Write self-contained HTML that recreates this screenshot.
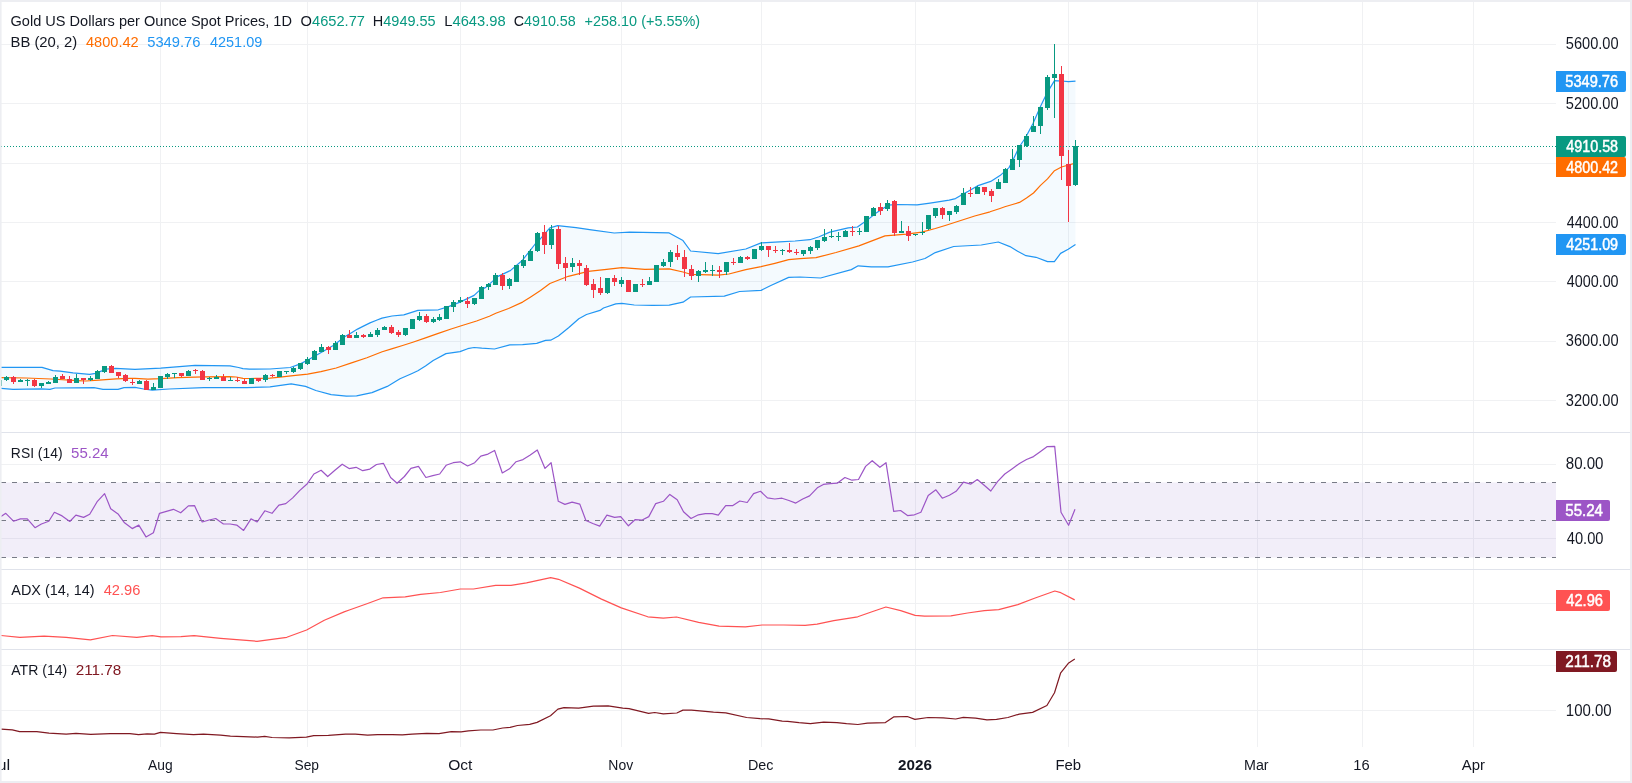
<!DOCTYPE html><html><head><meta charset='utf-8'><style>html,body{margin:0;padding:0;background:#fff;}#f{position:relative;width:1632px;height:783px;overflow:hidden;background:#EDEEF2;}svg{position:absolute;left:0;top:0;will-change:transform;}text{font-family:'Liberation Sans',sans-serif;}</style></head><body><div id='f'>
<svg width='1632' height='783' viewBox='0 0 1632 783'>
<defs><clipPath id='cp'><rect x='1' y='2' width='1555' height='745'/></clipPath><clipPath id='cm'><rect x='1' y='2' width='1555' height='430'/></clipPath><clipPath id='ct'><rect x='1' y='747' width='1629' height='34'/></clipPath></defs>
<rect x='1' y='2' width='1629' height='779' fill='#fff'/>
<g fill='#F0F1F3' shape-rendering='crispEdges'><rect x='1' y='44' width='1555' height='1'/><rect x='1' y='103' width='1555' height='1'/><rect x='1' y='163' width='1555' height='1'/><rect x='1' y='222' width='1555' height='1'/><rect x='1' y='281' width='1555' height='1'/><rect x='1' y='341' width='1555' height='1'/><rect x='1' y='400' width='1555' height='1'/><rect x='1' y='464' width='1555' height='1'/><rect x='1' y='538' width='1555' height='1'/><rect x='1' y='603' width='1555' height='1'/><rect x='1' y='665' width='1555' height='1'/><rect x='1' y='710' width='1555' height='1'/><rect x='160' y='2' width='1' height='745'/><rect x='307' y='2' width='1' height='745'/><rect x='460' y='2' width='1' height='745'/><rect x='621' y='2' width='1' height='745'/><rect x='761' y='2' width='1' height='745'/><rect x='915' y='2' width='1' height='745'/><rect x='1068' y='2' width='1' height='745'/><rect x='1257' y='2' width='1' height='745'/><rect x='1362' y='2' width='1' height='745'/><rect x='1473' y='2' width='1' height='745'/></g>
<g clip-path='url(#cm)'>
<polygon points='1.0,367.4 42.0,367.4 53.0,370.6 60.0,371.1 73.0,372.9 89.6,374.4 95.6,373.3 101.2,371.1 107.2,369.0 115.8,368.4 130.0,369.2 135.0,369.4 160.7,368.2 195.0,365.4 230.0,365.8 238.6,367.5 242.9,368.6 249.4,369.2 270.0,369.0 290.2,367.5 300.4,363.9 309.6,359.0 317.2,354.8 325.5,350.0 333.2,345.5 338.3,341.7 344.7,336.8 351.1,333.0 357.5,329.1 363.9,325.9 370.0,322.9 377.1,320.0 382.0,318.1 392.0,316.0 403.8,314.9 417.9,310.4 438.3,309.8 448.5,306.6 460.0,302.1 474.1,295.4 479.2,290.6 485.8,287.4 498.0,276.4 510.3,270.6 522.5,260.2 530.0,250.6 534.8,244.5 539.2,240.2 549.9,227.9 557.6,225.7 576.0,227.6 591.3,229.9 614.2,233.0 629.6,232.2 669.2,232.9 683.0,240.6 690.6,251.0 718.2,253.6 745.8,249.0 761.1,242.9 779.5,241.8 795.0,241.0 809.9,239.7 819.1,236.7 829.8,232.1 848.2,227.9 857.4,227.0 866.6,220.6 875.8,213.2 888.0,205.2 897.2,204.5 917.1,204.9 930.0,203.1 949.2,200.2 955.5,198.6 960.7,195.4 968.3,191.3 977.3,185.9 990.7,181.4 1000.0,175.6 1009.0,167.6 1013.0,160.0 1019.2,147.0 1025.3,138.0 1033.0,123.5 1040.7,105.9 1047.5,92.1 1054.5,80.6 1061.5,81.0 1068.5,81.6 1075.5,81.1 1075.5,244.6 1068.2,249.3 1060.6,253.4 1054.4,261.6 1047.5,261.6 1036.0,257.3 1026.0,255.7 1017.6,251.2 1009.9,246.6 998.3,242.0 981.3,245.0 953.7,246.5 935.3,252.6 925.0,258.5 912.5,262.0 888.0,266.9 871.2,266.9 858.2,265.8 851.3,269.6 820.6,278.0 800.0,277.0 788.7,277.4 770.3,285.8 761.1,290.4 739.6,291.5 724.3,296.1 690.6,297.0 683.0,302.2 669.2,305.2 652.5,305.4 634.2,305.0 621.9,303.4 615.8,303.9 603.5,308.0 600.0,310.4 586.5,314.5 578.8,318.7 568.6,327.7 558.4,336.0 550.7,340.2 545.6,340.4 536.7,343.4 522.6,344.7 509.8,344.9 494.5,349.0 481.7,348.2 474.1,347.5 467.7,348.7 460.0,351.6 446.0,353.6 433.2,360.5 425.5,366.0 417.9,370.7 411.5,373.7 400.0,378.8 397.5,380.3 387.3,386.4 372.0,392.6 356.6,395.8 346.4,396.1 331.1,394.6 315.8,390.5 305.5,386.4 291.2,383.9 270.0,386.8 246.5,387.7 229.4,387.7 203.6,387.7 169.3,389.0 152.2,390.1 143.6,389.0 135.0,387.3 124.0,387.6 118.0,389.3 103.0,389.3 94.0,387.6 55.0,388.0 50.0,389.3 41.0,388.9 13.0,389.3 1.0,388.4' fill='#2196F3' fill-opacity='0.05'/>
<polyline points='1.0,377.7 26.0,378.0 51.0,379.0 77.0,380.6 86.0,381.0 99.0,380.2 116.0,378.9 130.0,378.4 135.0,378.3 147.9,379.2 160.7,378.7 177.9,377.6 203.6,376.8 229.4,376.7 236.0,377.0 243.0,378.4 250.0,378.5 270.0,378.1 280.0,377.2 293.3,375.7 307.6,374.2 320.9,371.6 336.2,368.0 351.5,362.9 366.9,357.8 382.2,351.7 392.4,348.6 402.6,345.5 412.8,342.2 425.5,337.9 438.3,333.4 451.1,329.0 461.3,325.8 476.6,321.0 489.4,316.2 495.8,313.2 508.6,308.5 522.6,302.1 530.3,297.2 540.5,290.4 549.9,283.5 568.3,276.3 588.2,271.3 606.6,269.3 621.9,267.7 644.9,269.3 669.2,268.9 683.0,272.0 690.6,274.3 718.2,275.1 728.9,274.0 745.8,269.7 761.1,266.6 774.9,263.3 788.7,259.7 800.0,258.7 816.0,257.7 836.0,252.5 858.9,245.9 885.0,235.9 906.4,234.1 921.7,232.1 935.3,228.5 946.0,225.2 974.7,216.0 990.0,211.8 1000.0,208.5 1004.8,206.8 1012.5,204.5 1019.5,202.4 1026.5,198.1 1033.5,193.0 1040.5,185.4 1047.5,178.9 1054.5,170.7 1061.5,167.0 1068.5,165.0 1075.5,163.2' fill='none' stroke='#FF6D00' stroke-width='1.2' stroke-linejoin='round'/>
<polyline points='1.0,367.4 42.0,367.4 53.0,370.6 60.0,371.1 73.0,372.9 89.6,374.4 95.6,373.3 101.2,371.1 107.2,369.0 115.8,368.4 130.0,369.2 135.0,369.4 160.7,368.2 195.0,365.4 230.0,365.8 238.6,367.5 242.9,368.6 249.4,369.2 270.0,369.0 290.2,367.5 300.4,363.9 309.6,359.0 317.2,354.8 325.5,350.0 333.2,345.5 338.3,341.7 344.7,336.8 351.1,333.0 357.5,329.1 363.9,325.9 370.0,322.9 377.1,320.0 382.0,318.1 392.0,316.0 403.8,314.9 417.9,310.4 438.3,309.8 448.5,306.6 460.0,302.1 474.1,295.4 479.2,290.6 485.8,287.4 498.0,276.4 510.3,270.6 522.5,260.2 530.0,250.6 534.8,244.5 539.2,240.2 549.9,227.9 557.6,225.7 576.0,227.6 591.3,229.9 614.2,233.0 629.6,232.2 669.2,232.9 683.0,240.6 690.6,251.0 718.2,253.6 745.8,249.0 761.1,242.9 779.5,241.8 795.0,241.0 809.9,239.7 819.1,236.7 829.8,232.1 848.2,227.9 857.4,227.0 866.6,220.6 875.8,213.2 888.0,205.2 897.2,204.5 917.1,204.9 930.0,203.1 949.2,200.2 955.5,198.6 960.7,195.4 968.3,191.3 977.3,185.9 990.7,181.4 1000.0,175.6 1009.0,167.6 1013.0,160.0 1019.2,147.0 1025.3,138.0 1033.0,123.5 1040.7,105.9 1047.5,92.1 1054.5,80.6 1061.5,81.0 1068.5,81.6 1075.5,81.1' fill='none' stroke='#2196F3' stroke-width='1.2' stroke-linejoin='round'/>
<polyline points='1.0,388.4 13.0,389.3 41.0,388.9 50.0,389.3 55.0,388.0 94.0,387.6 103.0,389.3 118.0,389.3 124.0,387.6 135.0,387.3 143.6,389.0 152.2,390.1 169.3,389.0 203.6,387.7 229.4,387.7 246.5,387.7 270.0,386.8 291.2,383.9 305.5,386.4 315.8,390.5 331.1,394.6 346.4,396.1 356.6,395.8 372.0,392.6 387.3,386.4 397.5,380.3 400.0,378.8 411.5,373.7 417.9,370.7 425.5,366.0 433.2,360.5 446.0,353.6 460.0,351.6 467.7,348.7 474.1,347.5 481.7,348.2 494.5,349.0 509.8,344.9 522.6,344.7 536.7,343.4 545.6,340.4 550.7,340.2 558.4,336.0 568.6,327.7 578.8,318.7 586.5,314.5 600.0,310.4 603.5,308.0 615.8,303.9 621.9,303.4 634.2,305.0 652.5,305.4 669.2,305.2 683.0,302.2 690.6,297.0 724.3,296.1 739.6,291.5 761.1,290.4 770.3,285.8 788.7,277.4 800.0,277.0 820.6,278.0 851.3,269.6 858.2,265.8 871.2,266.9 888.0,266.9 912.5,262.0 925.0,258.5 935.3,252.6 953.7,246.5 981.3,245.0 998.3,242.0 1009.9,246.6 1017.6,251.2 1026.0,255.7 1036.0,257.3 1047.5,261.6 1054.4,261.6 1060.6,253.4 1068.2,249.3 1075.5,244.6' fill='none' stroke='#2196F3' stroke-width='1.2' stroke-linejoin='round'/>
<g fill='#089981' shape-rendering='crispEdges'><rect x='-1' y='380' width='1' height='6'/><rect x='-3' y='380' width='5' height='6'/><rect x='6' y='376' width='1' height='5'/><rect x='4' y='377' width='5' height='3'/><rect x='20' y='379' width='1' height='3'/><rect x='18' y='380' width='5' height='2'/><rect x='27' y='379' width='1' height='7'/><rect x='25' y='380' width='5' height='1'/><rect x='41' y='383' width='1' height='5'/><rect x='39' y='383' width='5' height='3'/><rect x='48' y='381' width='1' height='3'/><rect x='46' y='382' width='5' height='2'/><rect x='55' y='375' width='1' height='8'/><rect x='53' y='377' width='5' height='6'/><rect x='76' y='374' width='1' height='9'/><rect x='74' y='378' width='5' height='5'/><rect x='90' y='376' width='1' height='5'/><rect x='88' y='378' width='5' height='2'/><rect x='97' y='370' width='1' height='9'/><rect x='95' y='371' width='5' height='8'/><rect x='104' y='366' width='1' height='7'/><rect x='102' y='366' width='5' height='6'/><rect x='139' y='380' width='1' height='4'/><rect x='137' y='381' width='5' height='3'/><rect x='153' y='383' width='1' height='7'/><rect x='151' y='387' width='5' height='3'/><rect x='160' y='376' width='1' height='12'/><rect x='158' y='376' width='5' height='12'/><rect x='167' y='373' width='1' height='6'/><rect x='165' y='374' width='5' height='3'/><rect x='174' y='373' width='1' height='5'/><rect x='172' y='373' width='5' height='1'/><rect x='188' y='370' width='1' height='6'/><rect x='186' y='371' width='5' height='5'/><rect x='209' y='377' width='1' height='4'/><rect x='207' y='378' width='5' height='1'/><rect x='216' y='375' width='1' height='4'/><rect x='214' y='377' width='5' height='2'/><rect x='230' y='377' width='1' height='3'/><rect x='228' y='380' width='5' height='1'/><rect x='251' y='378' width='1' height='6'/><rect x='249' y='378' width='5' height='6'/><rect x='265' y='374' width='1' height='8'/><rect x='263' y='375' width='5' height='5'/><rect x='279' y='371' width='1' height='6'/><rect x='277' y='371' width='5' height='6'/><rect x='286' y='371' width='1' height='3'/><rect x='284' y='371' width='5' height='1'/><rect x='293' y='367' width='1' height='6'/><rect x='291' y='368' width='5' height='4'/><rect x='300' y='363' width='1' height='7'/><rect x='298' y='363' width='5' height='6'/><rect x='307' y='357' width='1' height='8'/><rect x='305' y='359' width='5' height='5'/><rect x='314' y='350' width='1' height='10'/><rect x='312' y='351' width='5' height='9'/><rect x='321' y='344' width='1' height='8'/><rect x='319' y='347' width='5' height='5'/><rect x='335' y='341' width='1' height='9'/><rect x='333' y='343' width='5' height='7'/><rect x='342' y='334' width='1' height='11'/><rect x='340' y='335' width='5' height='10'/><rect x='356' y='332' width='1' height='6'/><rect x='354' y='335' width='5' height='3'/><rect x='370' y='332' width='1' height='5'/><rect x='368' y='334' width='5' height='3'/><rect x='377' y='328' width='1' height='9'/><rect x='375' y='330' width='5' height='5'/><rect x='384' y='326' width='1' height='4'/><rect x='382' y='327' width='5' height='3'/><rect x='405' y='328' width='1' height='8'/><rect x='403' y='328' width='5' height='7'/><rect x='412' y='319' width='1' height='10'/><rect x='410' y='319' width='5' height='10'/><rect x='419' y='312' width='1' height='9'/><rect x='417' y='316' width='5' height='4'/><rect x='433' y='317' width='1' height='6'/><rect x='431' y='319' width='5' height='3'/><rect x='439' y='314' width='1' height='7'/><rect x='437' y='317' width='5' height='3'/><rect x='446' y='306' width='1' height='13'/><rect x='444' y='306' width='5' height='13'/><rect x='453' y='300' width='1' height='12'/><rect x='451' y='302' width='5' height='5'/><rect x='460' y='297' width='1' height='6'/><rect x='458' y='300' width='5' height='2'/><rect x='474' y='298' width='1' height='7'/><rect x='472' y='298' width='5' height='6'/><rect x='481' y='286' width='1' height='13'/><rect x='479' y='287' width='5' height='12'/><rect x='488' y='283' width='1' height='7'/><rect x='486' y='284' width='5' height='3'/><rect x='495' y='273' width='1' height='12'/><rect x='493' y='275' width='5' height='10'/><rect x='509' y='278' width='1' height='11'/><rect x='507' y='279' width='5' height='7'/><rect x='516' y='265' width='1' height='17'/><rect x='514' y='265' width='5' height='17'/><rect x='523' y='255' width='1' height='13'/><rect x='521' y='260' width='5' height='6'/><rect x='530' y='249' width='1' height='12'/><rect x='528' y='251' width='5' height='10'/><rect x='537' y='232' width='1' height='20'/><rect x='535' y='233' width='5' height='18'/><rect x='551' y='225' width='1' height='24'/><rect x='549' y='229' width='5' height='16'/><rect x='572' y='258' width='1' height='14'/><rect x='570' y='263' width='5' height='4'/><rect x='607' y='278' width='1' height='16'/><rect x='605' y='278' width='5' height='15'/><rect x='621' y='277' width='1' height='10'/><rect x='619' y='280' width='5' height='4'/><rect x='635' y='284' width='1' height='8'/><rect x='633' y='284' width='5' height='8'/><rect x='649' y='277' width='1' height='8'/><rect x='647' y='281' width='5' height='4'/><rect x='656' y='265' width='1' height='17'/><rect x='654' y='265' width='5' height='17'/><rect x='663' y='259' width='1' height='8'/><rect x='661' y='262' width='5' height='4'/><rect x='670' y='250' width='1' height='17'/><rect x='668' y='252' width='5' height='10'/><rect x='698' y='270' width='1' height='12'/><rect x='696' y='271' width='5' height='5'/><rect x='705' y='262' width='1' height='11'/><rect x='703' y='270' width='5' height='2'/><rect x='712' y='265' width='1' height='11'/><rect x='710' y='270' width='5' height='1'/><rect x='726' y='262' width='1' height='13'/><rect x='724' y='262' width='5' height='10'/><rect x='740' y='256' width='1' height='7'/><rect x='738' y='257' width='5' height='6'/><rect x='754' y='249' width='1' height='10'/><rect x='752' y='249' width='5' height='10'/><rect x='761' y='242' width='1' height='9'/><rect x='759' y='246' width='5' height='4'/><rect x='782' y='249' width='1' height='6'/><rect x='780' y='250' width='5' height='1'/><rect x='803' y='250' width='1' height='6'/><rect x='801' y='250' width='5' height='4'/><rect x='810' y='246' width='1' height='8'/><rect x='808' y='247' width='5' height='4'/><rect x='817' y='240' width='1' height='10'/><rect x='815' y='240' width='5' height='8'/><rect x='824' y='229' width='1' height='13'/><rect x='822' y='237' width='5' height='4'/><rect x='831' y='229' width='1' height='9'/><rect x='829' y='236' width='5' height='1'/><rect x='838' y='232' width='1' height='9'/><rect x='836' y='236' width='5' height='1'/><rect x='845' y='230' width='1' height='7'/><rect x='843' y='231' width='5' height='6'/><rect x='859' y='228' width='1' height='7'/><rect x='857' y='231' width='5' height='1'/><rect x='866' y='216' width='1' height='16'/><rect x='864' y='216' width='5' height='16'/><rect x='873' y='207' width='1' height='9'/><rect x='871' y='208' width='5' height='8'/><rect x='887' y='200' width='1' height='11'/><rect x='885' y='203' width='5' height='6'/><rect x='901' y='221' width='1' height='12'/><rect x='899' y='231' width='5' height='2'/><rect x='915' y='234' width='1' height='2'/><rect x='913' y='234' width='5' height='1'/><rect x='922' y='222' width='1' height='13'/><rect x='920' y='232' width='5' height='1'/><rect x='928' y='215' width='1' height='15'/><rect x='926' y='215' width='5' height='14'/><rect x='935' y='208' width='1' height='10'/><rect x='933' y='208' width='5' height='8'/><rect x='949' y='211' width='1' height='10'/><rect x='947' y='211' width='5' height='4'/><rect x='956' y='205' width='1' height='9'/><rect x='954' y='206' width='5' height='6'/><rect x='963' y='188' width='1' height='17'/><rect x='961' y='193' width='5' height='12'/><rect x='977' y='186' width='1' height='8'/><rect x='975' y='187' width='5' height='7'/><rect x='998' y='179' width='1' height='10'/><rect x='996' y='182' width='5' height='7'/><rect x='1005' y='168' width='1' height='15'/><rect x='1003' y='169' width='5' height='14'/><rect x='1012' y='149' width='1' height='21'/><rect x='1010' y='159' width='5' height='11'/><rect x='1019' y='145' width='1' height='22'/><rect x='1017' y='145' width='5' height='15'/><rect x='1026' y='134' width='1' height='13'/><rect x='1024' y='136' width='5' height='10'/><rect x='1033' y='116' width='1' height='16'/><rect x='1031' y='126' width='5' height='6'/><rect x='1040' y='107' width='1' height='27'/><rect x='1038' y='107' width='5' height='19'/><rect x='1047' y='75' width='1' height='35'/><rect x='1045' y='77' width='5' height='31'/><rect x='1054' y='44' width='1' height='74'/><rect x='1052' y='74' width='5' height='4'/><rect x='1075' y='140' width='1' height='46'/><rect x='1073' y='146' width='5' height='39'/></g>
<g fill='#F23645' shape-rendering='crispEdges'><rect x='13' y='376' width='1' height='8'/><rect x='11' y='377' width='5' height='5'/><rect x='34' y='379' width='1' height='8'/><rect x='32' y='380' width='5' height='6'/><rect x='62' y='374' width='1' height='5'/><rect x='60' y='376' width='5' height='3'/><rect x='69' y='376' width='1' height='7'/><rect x='67' y='379' width='5' height='4'/><rect x='83' y='378' width='1' height='6'/><rect x='81' y='378' width='5' height='2'/><rect x='111' y='365' width='1' height='8'/><rect x='109' y='366' width='5' height='7'/><rect x='118' y='372' width='1' height='6'/><rect x='116' y='372' width='5' height='4'/><rect x='125' y='374' width='1' height='8'/><rect x='123' y='375' width='5' height='6'/><rect x='132' y='379' width='1' height='6'/><rect x='130' y='382' width='5' height='1'/><rect x='146' y='380' width='1' height='10'/><rect x='144' y='381' width='5' height='9'/><rect x='181' y='373' width='1' height='4'/><rect x='179' y='373' width='5' height='3'/><rect x='195' y='369' width='1' height='5'/><rect x='193' y='370' width='5' height='1'/><rect x='202' y='370' width='1' height='10'/><rect x='200' y='371' width='5' height='9'/><rect x='223' y='374' width='1' height='7'/><rect x='221' y='377' width='5' height='4'/><rect x='237' y='377' width='1' height='5'/><rect x='235' y='380' width='5' height='1'/><rect x='244' y='379' width='1' height='5'/><rect x='242' y='381' width='5' height='3'/><rect x='258' y='378' width='1' height='4'/><rect x='256' y='378' width='5' height='3'/><rect x='272' y='374' width='1' height='3'/><rect x='270' y='375' width='5' height='1'/><rect x='328' y='346' width='1' height='8'/><rect x='326' y='347' width='5' height='3'/><rect x='349' y='330' width='1' height='8'/><rect x='347' y='335' width='5' height='3'/><rect x='363' y='334' width='1' height='4'/><rect x='361' y='335' width='5' height='2'/><rect x='391' y='325' width='1' height='9'/><rect x='389' y='327' width='5' height='6'/><rect x='398' y='330' width='1' height='7'/><rect x='396' y='332' width='5' height='3'/><rect x='426' y='314' width='1' height='9'/><rect x='424' y='316' width='5' height='6'/><rect x='467' y='297' width='1' height='11'/><rect x='465' y='301' width='5' height='3'/><rect x='502' y='273' width='1' height='17'/><rect x='500' y='275' width='5' height='11'/><rect x='544' y='225' width='1' height='29'/><rect x='542' y='232' width='5' height='13'/><rect x='558' y='226' width='1' height='43'/><rect x='556' y='229' width='5' height='35'/><rect x='565' y='257' width='1' height='24'/><rect x='563' y='263' width='5' height='5'/><rect x='579' y='260' width='1' height='15'/><rect x='577' y='263' width='5' height='3'/><rect x='586' y='265' width='1' height='21'/><rect x='584' y='268' width='5' height='17'/><rect x='593' y='279' width='1' height='19'/><rect x='591' y='284' width='5' height='6'/><rect x='600' y='277' width='1' height='18'/><rect x='598' y='288' width='5' height='5'/><rect x='614' y='275' width='1' height='11'/><rect x='612' y='278' width='5' height='4'/><rect x='628' y='280' width='1' height='12'/><rect x='626' y='280' width='5' height='12'/><rect x='642' y='279' width='1' height='8'/><rect x='640' y='284' width='5' height='1'/><rect x='677' y='245' width='1' height='15'/><rect x='675' y='253' width='5' height='4'/><rect x='684' y='250' width='1' height='27'/><rect x='682' y='257' width='5' height='12'/><rect x='691' y='265' width='1' height='15'/><rect x='689' y='269' width='5' height='7'/><rect x='719' y='266' width='1' height='12'/><rect x='717' y='270' width='5' height='2'/><rect x='733' y='258' width='1' height='7'/><rect x='731' y='262' width='5' height='1'/><rect x='747' y='256' width='1' height='4'/><rect x='745' y='257' width='5' height='2'/><rect x='768' y='246' width='1' height='11'/><rect x='766' y='246' width='5' height='4'/><rect x='775' y='246' width='1' height='7'/><rect x='773' y='250' width='5' height='1'/><rect x='789' y='243' width='1' height='10'/><rect x='787' y='250' width='5' height='2'/><rect x='796' y='249' width='1' height='6'/><rect x='794' y='252' width='5' height='1'/><rect x='852' y='226' width='1' height='10'/><rect x='850' y='231' width='5' height='1'/><rect x='880' y='203' width='1' height='12'/><rect x='878' y='207' width='5' height='4'/><rect x='894' y='200' width='1' height='36'/><rect x='892' y='201' width='5' height='32'/><rect x='908' y='226' width='1' height='15'/><rect x='906' y='231' width='5' height='5'/><rect x='942' y='207' width='1' height='12'/><rect x='940' y='208' width='5' height='7'/><rect x='970' y='187' width='1' height='10'/><rect x='968' y='193' width='5' height='1'/><rect x='984' y='187' width='1' height='8'/><rect x='982' y='187' width='5' height='5'/><rect x='991' y='189' width='1' height='13'/><rect x='989' y='191' width='5' height='5'/><rect x='1061' y='66' width='1' height='114'/><rect x='1059' y='74' width='5' height='82'/><rect x='1068' y='150' width='1' height='72'/><rect x='1066' y='164' width='5' height='22'/></g>
<line x1='1' y1='146.5' x2='1556' y2='146.5' stroke='#089981' stroke-width='1' stroke-dasharray='1 2' shape-rendering='crispEdges'/>
</g>
<rect x='1' y='482.5' width='1555' height='75' fill='#7E57C2' fill-opacity='0.1'/>
<line x1='1' y1='482.5' x2='1556' y2='482.5' stroke='#787B86' stroke-width='1' stroke-dasharray='5 6' shape-rendering='crispEdges'/>
<line x1='1' y1='520.5' x2='1556' y2='520.5' stroke='#787B86' stroke-width='1' stroke-dasharray='5 6' shape-rendering='crispEdges'/>
<line x1='1' y1='557.5' x2='1556' y2='557.5' stroke='#787B86' stroke-width='1' stroke-dasharray='5 6' shape-rendering='crispEdges'/>
<g clip-path='url(#cp)'>
<polyline points='1.0,516.6 5.8,513.3 13.5,521.2 20.4,518.9 27.3,518.9 35.0,527.7 41.4,524.0 48.8,521.2 54.4,512.3 62.1,515.9 69.8,521.5 75.9,515.1 83.6,517.4 89.7,514.3 97.4,501.3 104.6,493.6 110.7,508.7 118.4,514.3 124.5,522.8 132.2,528.6 138.8,525.1 146.0,536.9 153.4,532.7 159.5,513.3 166.4,511.3 173.4,509.3 180.7,512.8 188.4,505.9 194.5,505.6 202.2,522.0 209.1,520.0 215.7,518.5 223.4,524.0 230.1,524.0 236.7,525.1 243.6,530.4 251.0,518.9 257.1,522.0 264.8,510.8 272.0,513.3 278.9,505.1 285.8,503.6 292.7,497.9 299.6,490.6 307.3,483.7 313.9,474.0 321.1,470.3 327.7,476.5 334.9,470.3 342.2,464.2 349.1,468.6 356.1,467.3 362.7,470.7 369.9,469.1 376.5,464.5 383.4,463.3 390.6,477.5 397.1,483.2 404.4,476.5 410.9,468.4 418.5,466.4 425.9,477.5 432.8,475.6 439.7,474.0 446.1,465.3 453.2,462.7 460.4,461.8 467.6,466.0 474.7,462.7 480.8,456.1 488.0,454.1 494.6,450.4 502.3,473.0 509.5,468.8 516.1,461.7 523.0,459.6 529.9,455.3 537.3,450.0 545.0,468.4 551.1,462.7 558.3,501.3 564.9,504.4 572.1,502.1 579.8,504.1 585.9,520.5 592.8,523.5 599.7,526.1 606.9,515.1 614.6,517.4 620.7,516.6 628.4,525.8 635.0,519.7 642.2,520.0 648.8,516.6 655.7,503.6 663.4,501.3 669.8,494.4 677.2,499.8 683.5,511.7 691.0,518.5 698.4,514.8 705.3,513.6 712.2,513.6 718.3,515.1 725.7,505.6 732.9,505.6 739.8,501.0 747.2,502.5 753.6,493.6 760.5,491.3 767.4,497.9 774.8,499.0 782.0,498.2 788.9,500.5 795.8,503.1 802.7,499.0 809.6,495.9 817.3,487.8 823.4,484.4 830.3,483.7 837.2,483.2 844.9,477.5 852.0,480.2 858.5,479.5 865.6,466.4 872.2,460.7 879.9,467.3 886.0,462.7 893.7,511.3 900.6,510.5 907.5,515.6 914.4,514.8 920.9,512.3 928.2,495.5 935.9,489.8 942.3,498.2 949.4,495.2 956.1,491.3 963.5,482.1 970.9,484.1 977.3,479.5 984.2,485.2 990.8,491.0 997.5,481.7 1004.8,474.0 1012.3,468.7 1019.5,463.5 1026.5,459.5 1033.5,456.6 1040.2,451.7 1047.3,446.6 1054.7,446.4 1061.0,512.2 1068.6,525.3 1075.0,509.3' fill='none' stroke='#9C55C6' stroke-width='1.2' stroke-linejoin='round'/>
<polyline points='1.0,635.5 19.9,637.3 44.1,636.2 66.2,637.3 90.4,639.9 112.5,635.5 136.8,637.3 152.2,635.7 161.0,636.8 180.9,636.6 194.1,635.7 220.6,638.4 257.0,641.3 286.8,637.3 306.6,630.0 324.3,620.3 344.1,611.9 350.0,609.7 367.6,603.5 383.1,597.8 405.2,596.9 420.6,594.3 440.4,592.5 460.3,589.0 473.5,589.0 495.6,585.4 511.0,585.4 526.5,582.8 550.7,577.7 558.5,579.3 579.4,588.1 601.5,599.1 621.3,607.9 647.8,616.8 663.3,618.1 676.5,617.0 698.6,622.3 719.1,626.2 745.4,626.9 762.1,625.0 783.6,625.0 805.1,625.4 817.1,624.2 833.8,620.7 857.7,616.8 872.0,611.8 885.9,607.0 900.7,610.6 915.1,615.4 924.6,616.1 950.9,615.9 967.6,613.0 984.3,610.6 998.7,609.7 1017.8,604.6 1034.5,598.2 1054.8,591.0 1060.8,592.7 1074.7,599.9' fill='none' stroke='#FF5252' stroke-width='1.2' stroke-linejoin='round'/>
<polyline points='1.2,729.2 12.3,729.9 19.6,731.7 36.8,731.7 49.0,733.1 66.2,734.1 76.0,733.4 90.7,734.4 110.3,733.6 129.9,733.6 138.5,734.6 147.1,733.9 154.4,734.1 160.5,732.4 176.5,733.6 193.6,734.6 203.4,734.1 220.6,735.1 230.4,736.1 257.4,737.1 264.7,736.3 272.1,737.5 289.2,737.8 306.4,737.1 313.7,735.6 328.4,735.3 345.6,734.1 355.4,734.1 367.6,735.1 377.5,734.6 392.2,734.6 402.3,734.9 412.1,734.1 426.8,733.4 439.0,733.6 451.3,731.7 461.1,731.9 468.4,730.9 480.7,730.0 492.9,730.0 502.7,728.0 510.1,727.3 517.5,725.5 529.7,724.3 537.1,722.4 550.5,715.7 557.9,709.1 564.0,707.6 578.7,708.1 593.4,706.2 608.1,705.9 622.8,708.1 629.0,708.6 648.6,713.3 654.7,712.5 663.3,713.8 676.8,713.0 682.9,710.1 691.5,710.1 713.5,712.1 725.8,712.8 746.6,717.5 760.1,718.7 768.7,718.9 782.2,721.1 787.6,721.3 799.0,722.6 810.4,723.6 823.7,722.1 837.0,722.6 846.5,723.6 857.9,724.5 867.4,723.2 885.4,722.6 893.6,716.9 907.3,716.5 914.9,719.4 928.1,717.5 943.3,717.9 955.7,719.0 963.3,717.3 975.6,718.1 987.0,719.8 996.5,719.4 1007.9,717.5 1019.3,714.1 1032.6,712.4 1046.9,705.5 1054.5,692.8 1060.7,672.8 1068.7,662.9 1074.8,659.1' fill='none' stroke='#801922' stroke-width='1.2' stroke-linejoin='round'/>
</g>
<rect x='1' y='432' width='1629' height='1' fill='#E0E3EB'/>
<rect x='1' y='569' width='1629' height='1' fill='#E0E3EB'/>
<rect x='1' y='649' width='1629' height='1' fill='#E0E3EB'/>
<path d='M1556 71 H1624 Q1626 71 1626 73 V90 Q1626 92 1624 92 H1556 Z' fill='#2196F3'/>
<path d='M1556 136 H1624 Q1626 136 1626 138 V155 Q1626 157 1624 157 H1556 Z' fill='#089981'/>
<path d='M1556 157 H1624 Q1626 157 1626 159 V175 Q1626 177 1624 177 H1556 Z' fill='#FF6D00'/>
<path d='M1556 234 H1624 Q1626 234 1626 236 V253 Q1626 255 1624 255 H1556 Z' fill='#2196F3'/>
<path d='M1556 500 H1608 Q1610 500 1610 502 V519 Q1610 521 1608 521 H1556 Z' fill='#9C55C6'/>
<path d='M1556 590 H1608 Q1610 590 1610 592 V609 Q1610 611 1608 611 H1556 Z' fill='#FF5252'/>
<path d='M1556 651 H1615 Q1617 651 1617 653 V670 Q1617 672 1615 672 H1556 Z' fill='#801922'/>
<g fill='#131722'>
<text transform='translate(10.53 26.00) scale(0.9716 1.0)' font-size='15'><tspan fill='#131722'>Gold US Dollars per Ounce Spot Prices, 1D</tspan></text>
<text transform='translate(300.62 26.00) scale(0.9766 1.0)' font-size='15'><tspan fill='#131722'>O</tspan><tspan fill='#089981'>4652.77</tspan></text>
<text transform='translate(372.83 26.00) scale(0.9656 1.0)' font-size='15'><tspan fill='#131722'>H</tspan><tspan fill='#089981'>4949.55</tspan></text>
<text transform='translate(444.32 26.00) scale(0.9803 1.0)' font-size='15'><tspan fill='#131722'>L</tspan><tspan fill='#089981'>4643.98</tspan></text>
<text transform='translate(513.64 26.00) scale(0.9562 1.0)' font-size='15'><tspan fill='#131722'>C</tspan><tspan fill='#089981'>4910.58</tspan></text>
<text transform='translate(584.54 26.00) scale(0.9636 1.0)' font-size='15'><tspan fill='#089981'>+258.10 (+5.55%)</tspan></text>
<text transform='translate(10.51 47.00) scale(0.9894 1.0)' font-size='15'><tspan fill='#131722'>BB (20, 2)</tspan></text>
<text transform='translate(86.00 47.00) scale(0.9722 1.0)' font-size='15'><tspan fill='#FF6D00'>4800.42</tspan></text>
<text transform='translate(147.22 47.00) scale(0.9830 1.0)' font-size='15'><tspan fill='#2196F3'>5349.76</tspan></text>
<text transform='translate(210.00 47.00) scale(0.9648 1.0)' font-size='15'><tspan fill='#2196F3'>4251.09</tspan></text>
<text transform='translate(10.87 458.00) scale(0.9259 1.0)' font-size='15'><tspan fill='#131722'>RSI (14)</tspan></text>
<text transform='translate(71.10 458.00) scale(1.0000 1.0)' font-size='15'><tspan fill='#9C55C6'>55.24</tspan></text>
<text transform='translate(11.30 595.00) scale(0.9616 1.0)' font-size='15'><tspan fill='#131722'>ADX (14, 14)</tspan></text>
<text transform='translate(103.70 595.00) scale(0.9784 1.0)' font-size='15'><tspan fill='#FF5252'>42.96</tspan></text>
<text transform='translate(11.30 674.50) scale(0.9356 1.0)' font-size='15'><tspan fill='#131722'>ATR (14)</tspan></text>
<text transform='translate(75.68 674.50) scale(1.0186 1.0)' font-size='15'><tspan fill='#801922'>211.78</tspan></text>
<text transform='translate(1565.83 49.00) scale(0.9736 1.04)' font-size='15'><tspan fill='#131722'>5600.00</tspan></text>
<text transform='translate(1565.83 109.00) scale(0.9736 1.04)' font-size='15'><tspan fill='#131722'>5200.00</tspan></text>
<text transform='translate(1566.80 228.00) scale(0.9556 1.04)' font-size='15'><tspan fill='#131722'>4400.00</tspan></text>
<text transform='translate(1566.80 287.00) scale(0.9556 1.04)' font-size='15'><tspan fill='#131722'>4000.00</tspan></text>
<text transform='translate(1565.83 346.00) scale(0.9736 1.04)' font-size='15'><tspan fill='#131722'>3600.00</tspan></text>
<text transform='translate(1565.83 406.00) scale(0.9736 1.04)' font-size='15'><tspan fill='#131722'>3200.00</tspan></text>
<text transform='translate(1565.79 469.00) scale(1.0056 1.04)' font-size='15'><tspan fill='#131722'>80.00</tspan></text>
<text transform='translate(1566.80 543.50) scale(0.9784 1.04)' font-size='15'><tspan fill='#131722'>40.00</tspan></text>
<text transform='translate(1565.80 716.00) scale(1.0000 1.04)' font-size='15'><tspan fill='#131722'>100.00</tspan></text>
<text transform='translate(1565.33 87.00) scale(0.9736 1.04)' font-size='15'><tspan fill='#FFFFFF' stroke='#fff' stroke-width='0.45'>5349.76</tspan></text>
<text transform='translate(1566.30 152.00) scale(0.9556 1.04)' font-size='15'><tspan fill='#FFFFFF' stroke='#fff' stroke-width='0.45'>4910.58</tspan></text>
<text transform='translate(1566.30 172.50) scale(0.9556 1.04)' font-size='15'><tspan fill='#FFFFFF' stroke='#fff' stroke-width='0.45'>4800.42</tspan></text>
<text transform='translate(1566.30 250.00) scale(0.9556 1.04)' font-size='15'><tspan fill='#FFFFFF' stroke='#fff' stroke-width='0.45'>4251.09</tspan></text>
<text transform='translate(1565.29 516.00) scale(1.0056 1.04)' font-size='15'><tspan fill='#FFFFFF' stroke='#fff' stroke-width='0.45'>55.24</tspan></text>
<text transform='translate(1566.30 606.00) scale(0.9784 1.04)' font-size='15'><tspan fill='#FFFFFF' stroke='#fff' stroke-width='0.45'>42.96</tspan></text>
<text transform='translate(1565.28 667.00) scale(1.0233 1.04)' font-size='15'><tspan fill='#FFFFFF' stroke='#fff' stroke-width='0.45'>211.78</tspan></text>
<g clip-path='url(#ct)'><text transform='translate(-11.00 770.30) scale(1.1111 1.0)' font-size='15'><tspan fill='#131722'>Jul</tspan></text></g>
<g clip-path='url(#ct)'><text transform='translate(148.10 770.30) scale(0.9231 1.0)' font-size='15'><tspan fill='#131722'>Aug</tspan></text></g>
<g clip-path='url(#ct)'><text transform='translate(294.48 770.30) scale(0.9200 1.0)' font-size='15'><tspan fill='#131722'>Sep</tspan></text></g>
<g clip-path='url(#ct)'><text transform='translate(448.16 770.30) scale(1.0364 1.0)' font-size='15'><tspan fill='#131722'>Oct</tspan></text></g>
<g clip-path='url(#ct)'><text transform='translate(608.37 770.30) scale(0.9308 1.0)' font-size='15'><tspan fill='#131722'>Nov</tspan></text></g>
<g clip-path='url(#ct)'><text transform='translate(747.94 770.30) scale(0.9560 1.0)' font-size='15'><tspan fill='#131722'>Dec</tspan></text></g>
<g clip-path='url(#ct)'><text transform='translate(898.00 770.30) scale(1.0152 1.0)' font-size='15' font-weight='bold'><tspan fill='#131722'>2026</tspan></text></g>
<g clip-path='url(#ct)'><text transform='translate(1055.40 770.30) scale(0.9958 1.0)' font-size='15'><tspan fill='#131722'>Feb</tspan></text></g>
<g clip-path='url(#ct)'><text transform='translate(1244.05 770.30) scale(0.9520 1.0)' font-size='15'><tspan fill='#131722'>Mar</tspan></text></g>
<g clip-path='url(#ct)'><text transform='translate(1353.22 770.30) scale(0.9800 1.0)' font-size='15'><tspan fill='#131722'>16</tspan></text></g>
<g clip-path='url(#ct)'><text transform='translate(1461.80 770.30) scale(0.9913 1.0)' font-size='15'><tspan fill='#131722'>Apr</tspan></text></g>
</g>
<rect x='1' y='2' width='1' height='779' fill='#EDEEF2' fill-opacity='0.6'/>
</svg></div></body></html>
